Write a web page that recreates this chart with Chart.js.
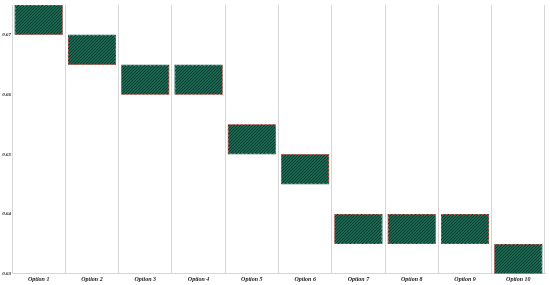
<!DOCTYPE html>
<html>
<head>
<meta charset="utf-8">
<script src="https://cdn.jsdelivr.net/npm/chart.js@4.4.0/dist/chart.umd.min.js"></script>
<style>
  html, body { margin: 0; padding: 0; background: #fff; }
  #wrap { width: 550px; height: 285px; }
</style>
</head>
<body>
<div id="wrap"><canvas id="chart"></canvas></div>
<script>
// dados do gráfico
const categories = ['Option 1', 'Option 2', 'Option 3', 'Option 4', 'Option 5',
                    'Option 6', 'Option 7', 'Option 8', 'Option 9', 'Option 10'];
const barLow  = [0.670, 0.665, 0.660, 0.660, 0.650, 0.645, 0.635, 0.635, 0.635, 0.630];
const barHigh = [0.675, 0.670, 0.665, 0.665, 0.655, 0.650, 0.640, 0.640, 0.640, 0.635];
const yTicks  = [0.63, 0.64, 0.65, 0.66, 0.67];

// padrão hachurado verde
function makeHatch() {
    const c = document.createElement('canvas');
    c.width = 3; c.height = 3;
    const g = c.getContext('2d');
    g.fillStyle = '#1b6650';
    g.fillRect(0, 0, 3, 3);
    g.fillStyle = '#0d3f30';
    g.fillRect(2, 0, 1, 1);
    g.fillRect(1, 1, 1, 1);
    g.fillRect(0, 2, 1, 1);
    return g.createPattern(c, 'repeat');
}

const ctx = document.getElementById('chart').getContext('2d');
const tickFont = { family: 'Liberation Serif', size: 5, style: 'italic', weight: 'bold' };

new Chart(ctx, {
    type: 'bar',
    data: {
        labels: categories,
        datasets: [{
            data: barLow.map((v, i) => [v, barHigh[i]]),
            backgroundColor: makeHatch(),
            borderWidth: 0,
            barPercentage: 0.9,
            categoryPercentage: 1.0
        }]
    },
    options: {
        responsive: true,
        maintainAspectRatio: false,
        animation: false,
        layout: { padding: { top: 5, right: 5, left: 0, bottom: 0 } },
        plugins: {
            legend: { display: false },
            tooltip: { enabled: false }
        },
        scales: {
            x: {
                grid: { display: true, color: '#d6d6d6', lineWidth: 1, offset: true, drawTicks: false },
                border: { display: true, color: '#d6d6d6' },
                ticks: { color: '#222', font: { ...tickFont, size: 6 }, padding: 2 }
            },
            y: {
                min: 0.63,
                max: 0.675,
                afterBuildTicks: (scale) => { scale.ticks = yTicks.map(v => ({ value: v })); },
                afterFit: (scale) => { scale.width = 12; },
                grid: { display: false, drawTicks: false },
                border: { display: true, color: '#d6d6d6' },
                ticks: { color: '#222', font: tickFont, padding: 1, callback: (v) => v.toFixed(2) }
            }
        }
    },
    plugins: [{
        // borda tracejada vermelha nas barras
        id: 'dashedBorder',
        afterDatasetsDraw(chart) {
            const c = chart.ctx;
            c.save();
            c.setLineDash([2, 2]);
            c.strokeStyle = '#d9534f';
            c.lineWidth = 1;
            chart.getDatasetMeta(0).data.forEach(bar => {
                const left = Math.round(bar.x - bar.width / 2) + 0.5;
                const right = Math.round(bar.x + bar.width / 2) - 0.5;
                const top = Math.round(Math.min(bar.y, bar.base)) + 0.5;
                const bottom = Math.round(Math.max(bar.y, bar.base)) - 0.5;
                c.strokeRect(left, top, right - left, bottom - top);
            });
            c.restore();
        }
    }]
});
</script>
</body>
</html>
